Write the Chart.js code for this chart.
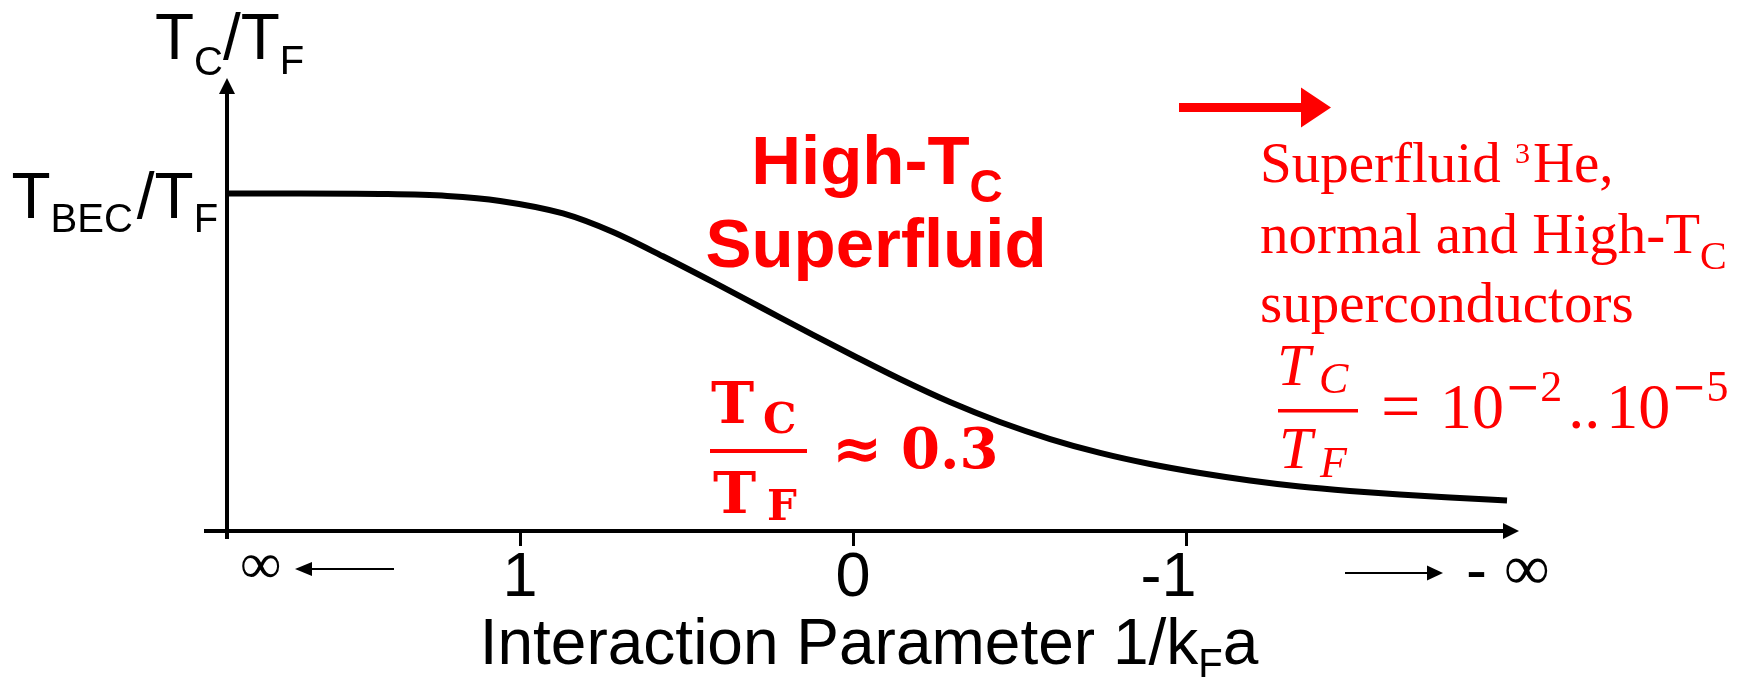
<!DOCTYPE html>
<html>
<head>
<meta charset="utf-8">
<script src="https://cdn.jsdelivr.net/npm/chart.js@4.4.1/dist/chart.umd.min.js"></script>
<style>
  html, body { margin: 0; padding: 0; background: #ffffff; }
  #wrap { width: 1755px; height: 677px; position: relative; }
</style>
</head>
<body>
<div id="wrap"><canvas id="chart" width="1755" height="677"></canvas></div>
<script>
// Critical temperature across the BEC–BCS crossover, plotted against 1/(k_F a)
const interaction = [1.88, 1.661, 1.421, 1.219, 1.06, 0.871, 0.721, 0.571, 0.421, 0.27, 0.12, 0.0, -0.141, -0.291, -0.441, -0.592, -0.742, -0.892, -1.042, -1.192, -1.342, -1.492, -1.642, -1.793, -1.964];
const tcOverTf    = [0.2183, 0.2183, 0.218, 0.2167, 0.2135, 0.2054, 0.1934, 0.1777, 0.1611, 0.1439, 0.1268, 0.1135, 0.0983, 0.0834, 0.0705, 0.0595, 0.0505, 0.0433, 0.0375, 0.0327, 0.0288, 0.0259, 0.0236, 0.0217, 0.0197];
const tickValues  = [1, 0, -1];
const tickLabels  = ['1', '0', '-1  '];
const tBecOverTf  = 0.218;
const xRange      = [-2.0, 1.88];
const yRange      = [0, 0.293];

const RED = '#ff0000';
const SANS = 'Liberation Sans';
const SERIF = 'Liberation Serif';

// Draws a run of text pieces: [text, font, dy, dx]
function rich(ctx, x, y, parts, align) {
  let w = 0;
  for (const p of parts) { ctx.font = p[1]; w += ctx.measureText(p[0]).width + (p[3] || 0); }
  let cx = align === 'center' ? x - w / 2 : x;
  for (const p of parts) {
    ctx.font = p[1];
    cx += (p[3] || 0);
    ctx.fillText(p[0], cx, y + (p[2] || 0));
    cx += ctx.measureText(p[0]).width;
  }
}

function arrowHead(ctx, tipX, tipY, dir, len, half) {
  ctx.beginPath();
  if (dir === 'up') {
    ctx.moveTo(tipX, tipY); ctx.lineTo(tipX - half, tipY + len); ctx.lineTo(tipX + half, tipY + len);
  } else if (dir === 'right') {
    ctx.moveTo(tipX, tipY); ctx.lineTo(tipX - len, tipY - half); ctx.lineTo(tipX - len, tipY + half);
  } else {
    ctx.moveTo(tipX, tipY); ctx.lineTo(tipX + len, tipY - half); ctx.lineTo(tipX + len, tipY + half);
  }
  ctx.closePath();
  ctx.fill();
}

const overlay = {
  id: 'overlay',
  afterDraw(chart) {
    const { ctx, chartArea: a, scales: { y } } = chart;
    ctx.save();
    ctx.textAlign = 'left';
    ctx.textBaseline = 'alphabetic';

    // axes with arrows
    ctx.fillStyle = '#000';
    ctx.strokeStyle = '#000';
    ctx.lineWidth = 4;
    ctx.beginPath();
    ctx.moveTo(a.left - 23, a.bottom);
    ctx.lineTo(a.right - 10, a.bottom);
    ctx.moveTo(a.left, a.bottom + 8);
    ctx.lineTo(a.left, a.top + 10);
    ctx.stroke();
    arrowHead(ctx, a.right, a.bottom, 'right', 16, 8);
    arrowHead(ctx, a.left, a.top, 'up', 16, 8);

    // axis titles
    const s64 = `64px "${SANS}"`, s40 = `40px "${SANS}"`;
    rich(ctx, 155, 59, [['T', s64], ['C', s40, 16], ['/', s64], ['T', s64], ['F', s40, 15]]);
    const yb = y.getPixelForValue(tBecOverTf);
    rich(ctx, 11.5, yb + 24.5, [['T', s64], ['BEC', s40, 14], ['/', s64, 0, 4], ['T', s64], ['F', s40, 14]]);
    rich(ctx, 869, 664, [['Interaction Parameter 1/k', s64], ['F', s40, 13], ['a', s64]], 'center');

    // infinite limits of the axis
    ctx.font = `58px "${SERIF}"`;
    ctx.fillText('\u221E', 240, 583);
    ctx.lineWidth = 2;
    ctx.beginPath(); ctx.moveTo(394, 569); ctx.lineTo(308, 569); ctx.stroke();
    arrowHead(ctx, 295, 569, 'left', 17, 7);
    ctx.beginPath(); ctx.moveTo(1345, 573); ctx.lineTo(1430, 573); ctx.stroke();
    arrowHead(ctx, 1443, 573, 'right', 16, 7.5);
    ctx.font = `63px "${SANS}"`;
    ctx.fillText('-', 1466, 591);
    ctx.font = `64px "${SERIF}"`;
    ctx.fillText('\u221E', 1504, 589);

    // crossover region annotation
    ctx.fillStyle = RED;
    const b69 = `bold 69px "${SANS}"`, b46 = `bold 46px "${SANS}"`;
    rich(ctx, 877, 184, [['High-T', b69], ['C', b46, 18]], 'center');
    rich(ctx, 876, 267, [['Superfluid', b69]], 'center');

    const mb58 = 'bold 58px "DejaVu Serif"', mb42 = 'bold 42px "DejaVu Serif"';
    ctx.font = mb58; ctx.fillText('T', 711, 423);
    ctx.font = mb42; ctx.fillText('C', 763, 433);
    ctx.fillRect(710, 449, 97, 4);
    ctx.font = mb58; ctx.fillText('T', 713, 513);
    ctx.font = mb42; ctx.fillText('F', 767, 520);
    ctx.font = 'bold 60px "DejaVu Sans"'; ctx.fillText('\u2248', 832, 469);
    ctx.font = 'bold 56px "DejaVu Serif"'; ctx.fillText('0.3', 901, 468);

    // weak-coupling side annotation
    ctx.fillRect(1179, 103, 124, 9);
    arrowHead(ctx, 1331, 107.5, 'right', 30, 20);

    const r57 = `57px "${SERIF}"`, r40 = `40px "${SERIF}"`, r30 = `30px "${SERIF}"`;
    rich(ctx, 1260, 182, [['Superfluid ', r57], ['3', r30, -19], ['He,', r57, 0, 3]]);
    rich(ctx, 1260, 253, [['normal and High-T', r57], ['C', r40, 16]]);
    rich(ctx, 1260, 322, [['superconductors', r57]]);

    const i60 = `italic 60px "${SERIF}"`, i44 = `italic 44px "${SERIF}"`;
    const r64 = `64px "${SERIF}"`, r44 = `44px "${SERIF}"`, minus = '42px "DejaVu Sans"';
    ctx.font = i60; ctx.fillText('T', 1277, 385);
    ctx.font = i44; ctx.fillText('C', 1319, 393);
    ctx.fillRect(1278, 409, 80, 3.5);
    ctx.font = i60; ctx.fillText('T', 1279, 468);
    ctx.font = i44; ctx.fillText('F', 1320, 477);
    ctx.font = `70px "${SERIF}"`; ctx.fillText('=', 1381, 430);
    rich(ctx, 1440, 428, [['10', r64], ['\u2212', minus, -27, 1], ['2', r44, -27], ['..', r64, 0, 6], ['10', r64, 0, 6], ['\u2212', minus, -27, 1], ['5', r44, -27]]);

    ctx.restore();
  }
};

new Chart(document.getElementById('chart'), {
  type: 'line',
  data: {
    datasets: [{
      data: interaction.map((v, i) => ({ x: v, y: tcOverTf[i] })),
      borderColor: '#000',
      borderWidth: 6,
      pointRadius: 0,
      fill: false,
      cubicInterpolationMode: 'monotone'
    }]
  },
  options: {
    responsive: false,
    animation: false,
    devicePixelRatio: 1,
    layout: { padding: { top: 78, right: 236, left: 0, bottom: 0 } },
    plugins: { legend: { display: false }, tooltip: { enabled: false } },
    scales: {
      x: {
        type: 'linear',
        reverse: true,
        min: xRange[0],
        max: xRange[1],
        afterBuildTicks: s => { s.ticks = tickValues.map(v => ({ value: v })); },
        afterFit: s => { s.height = 146; },
        ticks: {
          callback: (v, i) => tickLabels[i],
          font: { family: SANS, size: 63, lineHeight: 1 },
          color: '#000',
          padding: 1,
          maxRotation: 0,
          autoSkip: false
        },
        grid: { display: true, drawOnChartArea: false, drawTicks: true, tickLength: 15, color: '#000', lineWidth: 3 },
        border: { display: false }
      },
      y: {
        min: yRange[0],
        max: yRange[1],
        afterFit: s => { s.width = 227; },
        ticks: { display: false },
        grid: { display: false },
        border: { display: false }
      }
    }
  },
  plugins: [overlay]
});
</script>
</body>
</html>
